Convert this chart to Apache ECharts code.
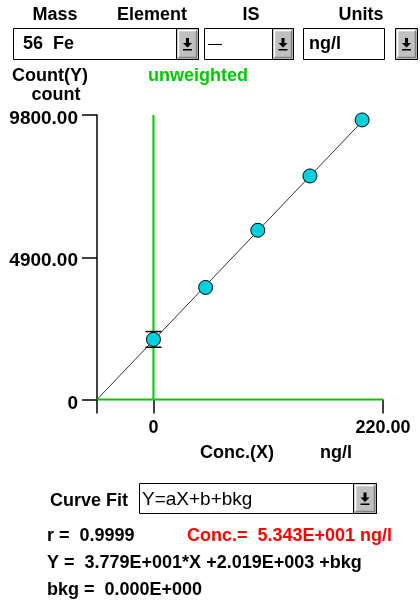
<!DOCTYPE html>
<html>
<head>
<meta charset="utf-8">
<script src="https://cdn.jsdelivr.net/npm/echarts@6/dist/echarts.min.js"></script>
<style>
html, body {margin: 0; padding: 0; background: #fff;}
#calib_chart {width: 420px; height: 604px;}
</style>
</head>
<body>
<div id="calib_chart"></div>
<script>
// calibration points (conc ng/l, count)
var concX = [0, 50, 100, 150, 200];
var countY = [2070, 3860, 5830, 7700, 9630];
// error only visible on the blank, rest hidden under marker
var countErr = [270, null, null, null, null];
// fitted line end points
var fitX = [-54.1, 200];
var fitY = [0, 9577];
// green zero lines
var zeroX = [0, 0];
var zeroY = [0, 9800];
var baseX = [-54.1, 220];
var baseY = [0, 0];
// axis ticks
var xMin = -54.1, xMax = 220;
var xTickVals = [0, 220];
var yTickVals = [0, 4900, 9800];

var FONT = 'Liberation Sans, Arial, sans-serif';
var GREEN = '#00c800';

function boldFont(size) {
    return 'bold ' + size + 'px ' + FONT;
}
function label(text, x, y, opts) {
    opts = opts || {};
    return {
        type: 'text', silent: true,
        style: {
            text: text, x: x, y: y,
            font: opts.font || boldFont(18),
            fill: opts.color || '#000',
            align: opts.align || 'left',
            verticalAlign: 'middle'
        }
    };
}
//combo button with down arrow
function button(x, y, w, h) {
    var cx = x + w / 2, cy = y + h / 2;
    return [
        {type: 'rect', shape: {x: x, y: y, width: w, height: h}, style: {fill: '#c0c0c0', stroke: '#000', lineWidth: 1}},
        {type: 'polyline', shape: {points: [[x + 2, y + h - 2], [x + 2, y + 2], [x + w - 2, y + 2]]}, style: {stroke: '#fff', lineWidth: 1.5, fill: null}},
        {type: 'polyline', shape: {points: [[x + 2, y + h - 2], [x + w - 2, y + h - 2], [x + w - 2, y + 2]]}, style: {stroke: '#808080', lineWidth: 1.5, fill: null}},
        {type: 'polygon', shape: {points: [[cx - 1.5, cy - 6], [cx + 1.5, cy - 6], [cx + 1.5, cy - 1], [cx + 4.5, cy - 1], [cx, cy + 3.5], [cx - 4.5, cy - 1], [cx - 1.5, cy - 1]]}, style: {fill: '#000'}},
        {type: 'rect', shape: {x: cx - 4.5, y: cy + 5, width: 9, height: 1.5}, style: {fill: '#000'}}
    ];
}
function box(x, y, w, h) {
    return {type: 'rect', shape: {x: x, y: y, width: w, height: h}, style: {fill: '#fff', stroke: '#000', lineWidth: 1}};
}

var graphics = [
    label('Mass', 55, 15, {align: 'center'}),
    label('Element', 152, 15, {align: 'center'}),
    label('IS', 251, 15, {align: 'center'}),
    label('Units', 361, 15, {align: 'center'}),
    box(13.5, 28.5, 185, 31),
    label('56  Fe', 23, 44),
    box(204.5, 28.5, 89, 31),
    {type: 'line', shape: {x1: 208, y1: 44.5, x2: 222, y2: 44.5}, style: {stroke: '#000', lineWidth: 1}},
    box(303.5, 28.5, 81, 31),
    label('ng/l', 309, 44),
    label('Count(Y)', 12, 76),
    label('count', 56, 95, {align: 'center'}),
    label('unweighted', 148, 76, {color: GREEN}),
    label('Conc.(X)', 200, 453),
    label('ng/l', 320, 453),
    label('Curve Fit', 50, 501),
    box(139.5, 483.5, 237, 30),
    label('Y=aX+b+bkg', 142, 500, {font: '19px ' + FONT}),
    label('r =  0.9999', 47, 536),
    label('Conc.=  5.343E+001 ng/l', 187, 536, {color: '#ff0000'}),
    label('Y =  3.779E+001*X +2.019E+003 +bkg', 47, 563),
    label('bkg =  0.000E+000', 47, 590)
];
graphics = graphics.concat(button(176.5, 28.5, 22, 31), button(272.5, 28.5, 21, 31), button(395.5, 28.5, 22, 31), button(353.5, 483.5, 23, 30));

var pts = concX.map(function (x, i) { return [x, countY[i]]; });
var errs = [];
concX.forEach(function (x, i) {
    if (countErr[i] != null) errs.push([x, countY[i] - countErr[i], countY[i] + countErr[i]]);
});
var fitLine = fitX.map(function (x, i) { return [x, fitY[i]]; });
var zeroLine = zeroX.map(function (x, i) { return [x, zeroY[i]]; });
var baseLine = baseX.map(function (x, i) { return [x, baseY[i]]; });

var chart = echarts.init(document.getElementById('calib_chart'));
chart.setOption({
    backgroundColor: '#fff',
    animation: false,
    grid: {left: 97, top: 115, width: 286, height: 284.5},
    xAxis: {
        type: 'value', min: xMin, max: xMax,
        axisLine: {show: false},
        axisTick: {show: true, length: 14, customValues: [xMin].concat(xTickVals), lineStyle: {color: '#000', width: 1.5}},
        axisLabel: {
            customValues: xTickVals, margin: 20, fontSize: 18, fontWeight: 'bold', fontFamily: FONT, color: '#000',
            formatter: function (v) { return v === 0 ? '0' : v.toFixed(2); }
        },
        splitLine: {show: false}
    },
    yAxis: {
        type: 'value', min: 0, max: 9800,
        axisLine: {show: true, onZero: false, lineStyle: {color: '#000', width: 1.5}},
        axisTick: {show: true, length: 15, customValues: yTickVals, lineStyle: {color: '#000', width: 1.5}},
        axisLabel: {
            customValues: yTickVals, margin: 19, color: '#000',
            formatter: function (v) { return '{t|' + (v === 0 ? '0' : v.toFixed(2)) + '}'; },
            rich: {t: {fontSize: 19, fontWeight: 'bold', fontFamily: FONT, color: '#000', padding: [8, 0, 0, 0]}}
        },
        splitLine: {show: false}
    },
    graphic: graphics,
    series: [
        {
            type: 'line', data: zeroLine, symbol: 'none', silent: true, clip: false,
            lineStyle: {color: GREEN, width: 2}, z: 1
        },
        {
            type: 'line', data: baseLine, symbol: 'none', silent: true, clip: false,
            lineStyle: {color: GREEN, width: 2}, z: 5
        },
        {
            type: 'line', data: fitLine, symbol: 'none', silent: true, clip: false,
            lineStyle: {color: '#303030', width: 1}, z: 2
        },
        {
            type: 'custom', data: errs, silent: true,
            renderItem: function (params, api) {
                var lo = api.coord([api.value(0), api.value(1)]);
                var hi = api.coord([api.value(0), api.value(2)]);
                var st = {stroke: '#000', lineWidth: 1.5};
                return {
                    type: 'group', children: [
                        {type: 'line', shape: {x1: lo[0], y1: lo[1], x2: hi[0], y2: hi[1]}, style: st},
                        {type: 'line', shape: {x1: lo[0] - 8, y1: lo[1], x2: lo[0] + 8, y2: lo[1]}, style: st},
                        {type: 'line', shape: {x1: hi[0] - 8, y1: hi[1], x2: hi[0] + 8, y2: hi[1]}, style: st}
                    ]
                };
            },
            z: 3
        },
        {
            type: 'scatter', data: pts, symbolSize: 14, silent: true,
            itemStyle: {color: '#00d0dc', borderColor: '#000', borderWidth: 1, opacity: 1},
            z: 4
        }
    ]
});
</script>
</body>
</html>
